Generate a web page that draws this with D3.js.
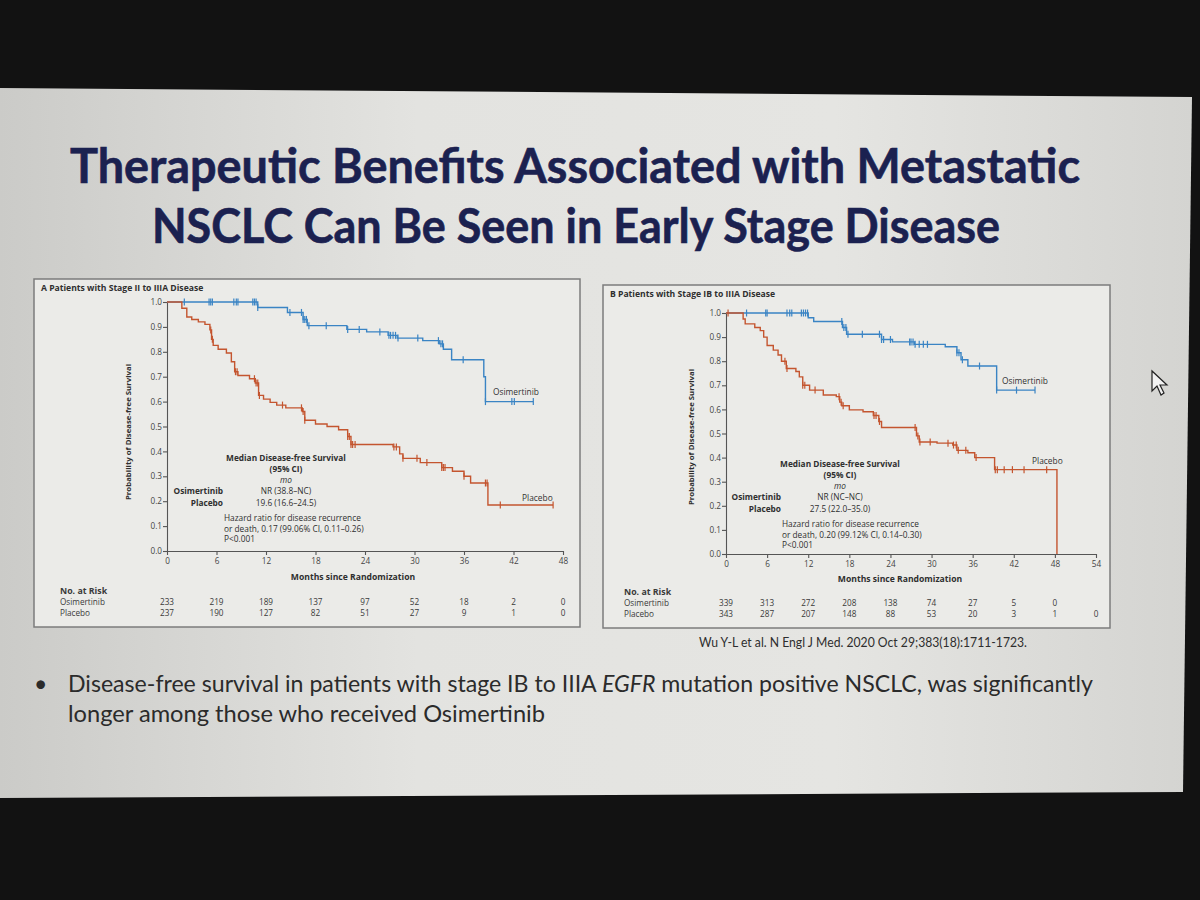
<!DOCTYPE html>
<html>
<head>
<meta charset="utf-8">
<title>Osimertinib disease-free survival</title>
<script src="https://d3js.org/d3.v7.min.js"></script>
<style>
  body { margin: 0; background: #121212; }
  svg { display: block; }
</style>
</head>
<body>
<script>
// ---- data ----
// risk table
const riskMonthsA = [0, 6, 12, 18, 24, 30, 36, 42, 48];
const riskOsiA = [233, 219, 189, 137, 97, 52, 18, 2, 0];
const riskPboA = [237, 190, 127, 82, 51, 27, 9, 1, 0];
const riskMonthsB = [0, 6, 12, 18, 24, 30, 36, 42, 48, 54];
const riskOsiB = [339, 313, 272, 208, 138, 74, 27, 5, 0];
const riskPboB = [343, 287, 207, 148, 88, 53, 20, 3, 1, 0];
const probTicks = [0, 0.1, 0.2, 0.3, 0.4, 0.5, 0.6, 0.7, 0.8, 0.9, 1.0];

// KM steps: [month, survival after the step]
const osiStepsA = [[0,1],[11.0,0.978],[14.6,0.958],[16.5,0.93],[17.0,0.905],[21.8,0.89],[24.2,0.88],
  [26.8,0.866],[27.9,0.855],[31.0,0.845],[33.0,0.832],[33.5,0.81],[34.5,0.768],[38.4,0.70],[38.6,0.60]];
const osiEndA = 44.4;
const osiCensA = [2.1,5.1,5.3,5.5,8.1,8.4,8.6,10.4,10.6,10.8,11.0,14.9,16.3,16.5,16.7,16.9,17.2,19.3,21.9,
  23.3,25.8,26.9,27.1,27.4,27.7,28.0,30.4,32.9,33.2,33.4,35.9,38.6,41.8,42.1,44.4];
const pboStepsA = [[0,1],[1.8,0.975],[2.4,0.94],[3.0,0.93],[3.8,0.92],[4.6,0.91],[5.2,0.888],[5.4,0.85],
  [5.6,0.826],[6.2,0.81],[7.2,0.795],[7.8,0.76],[8.2,0.72],[8.6,0.705],[10.0,0.692],[10.7,0.675],[11.1,0.625],
  [11.7,0.61],[12.5,0.597],[13.3,0.586],[14.4,0.575],[16.4,0.56],[16.7,0.525],[18.0,0.51],[19.4,0.50],
  [20.8,0.487],[21.9,0.46],[22.3,0.428],[27.4,0.418],[28.2,0.39],[28.6,0.372],[30.7,0.355],[33.3,0.335],
  [34.6,0.32],[36.0,0.30],[36.8,0.273],[38.9,0.185]];
const pboEndA = 46.8;
const pboCensA = [5.3,5.5,8.3,8.5,10.6,10.8,11.0,11.2,14.0,16.3,16.5,16.7,21.9,22.1,22.3,22.5,22.8,27.5,
  27.8,28.6,30.3,31.5,33.3,33.5,33.7,36.0,38.6,38.8,40.4,46.8];

const osiStepsB = [[0,1],[12.0,0.98],[12.8,0.965],[17.0,0.94],[17.6,0.912],[22.7,0.89],[24.3,0.88],
  [27.5,0.87],[32.0,0.86],[33.7,0.835],[34.3,0.806],[35.3,0.78],[39.5,0.68]];
const osiEndB = 45.1;
const osiCensB = [3.0,5.8,6.0,8.9,9.3,9.6,11.0,11.3,11.6,11.9,16.9,17.2,17.5,17.8,19.9,22.4,22.7,23.0,
  24.0,26.8,27.0,27.3,27.6,28.2,28.8,29.4,33.7,34.0,34.5,37.0,39.5,42.4,45.1];
const pboStepsB = [[0,1],[2.5,0.975],[2.8,0.955],[4.2,0.94],[5.0,0.927],[5.5,0.90],[6.0,0.865],[6.9,0.846],
  [7.6,0.826],[8.1,0.80],[8.8,0.77],[10.2,0.757],[10.7,0.735],[11.2,0.70],[12.2,0.68],[14.2,0.66],
  [16.1,0.653],[16.6,0.63],[16.9,0.615],[18.0,0.598],[20.0,0.59],[21.5,0.575],[22.3,0.55],[22.7,0.525],
  [27.8,0.49],[28.2,0.465],[30.8,0.46],[33.1,0.452],[33.7,0.43],[35.3,0.42],[36.3,0.40],[39.2,0.35],[48.3,0]];
const pboEndB = 48.3;
const pboCensB = [0.3,8.6,8.9,11.2,11.5,13.0,16.5,16.8,17.1,21.6,21.9,22.4,27.6,28.0,28.3,29.8,32.4,33.2,
  33.6,33.9,35.0,36.5,39.3,39.6,40.6,41.8,43.5,46.8];

// annotation texts
const statsA = ["NR (38.8\u2013NC)", "19.6 (16.6\u201324.5)"];
const hazardA = ["Hazard ratio for disease recurrence", "or death, 0.17 (99.06% CI, 0.11\u20130.26)", "P<0.001"];
const statsB = ["NR (NC\u2013NC)", "27.5 (22.0\u201335.0)"];
const hazardB = ["Hazard ratio for disease recurrence", "or death, 0.20 (99.12% CI, 0.14\u20130.30)", "P<0.001"];

const BLUE = "#3a84c4", ORANGE = "#c4552f", INK = "#2f2f2f";
const chartFont = "'Open Sans', 'DejaVu Sans', sans-serif";
const slideFont = "Lato, 'Open Sans', sans-serif";

const svg = d3.select("body").append("svg").attr("width", 1200).attr("height", 900);

// ---- photo background ----
const defs = svg.append("defs");
const grad = defs.append("linearGradient").attr("id", "slideBg").attr("x1", 0).attr("x2", 1).attr("y1", 0).attr("y2", 0);
grad.append("stop").attr("offset", 0).attr("stop-color", "#cbcbc8");
grad.append("stop").attr("offset", 0.35).attr("stop-color", "#e3e3e0");
grad.append("stop").attr("offset", 0.7).attr("stop-color", "#e5e5e2");
grad.append("stop").attr("offset", 1).attr("stop-color", "#d4d4d1");

svg.append("rect").attr("width", 1200).attr("height", 900).attr("fill", "#121212");
svg.append("polygon").attr("points", "0,88 1192,97 1183,792 0,798").attr("fill", "url(#slideBg)");

// title
const title = svg.append("g").attr("font-family", slideFont).attr("font-weight", 700)
  .attr("font-size", 47).attr("fill", "#1b2150").attr("stroke", "#1b2150").attr("stroke-width", 0.6)
  .attr("text-anchor", "middle");
title.append("text").attr("x", 575).attr("y", 183).attr("textLength", 1010).attr("lengthAdjust", "spacingAndGlyphs")
  .text("Therapeutic Benefits Associated with Metastatic");
title.append("text").attr("x", 576).attr("y", 243).attr("textLength", 848).attr("lengthAdjust", "spacingAndGlyphs")
  .text("NSCLC Can Be Seen in Early Stage Disease");

// ---- one KM panel ----
function survAt(steps, t) {
  const i = d3.bisector(d => d[0]).right(steps, t) - 1;
  return steps[Math.max(0, i)][1];
}

function drawPanel(p) {
  const g = svg.append("g");
  g.append("rect").attr("x", p.box[0]).attr("y", p.box[1]).attr("width", p.box[2]).attr("height", p.box[3])
    .attr("fill", "#ebebe8").attr("stroke", "#7c7c7c").attr("stroke-width", 1.5);

  g.append("text").attr("x", p.box[0] + 7).attr("y", p.box[1] + 12)
    .attr("font-family", chartFont).attr("font-size", 8.6).attr("font-weight", 700).attr("fill", INK)
    .text(p.title);

  const x = d3.scaleLinear().domain([0, p.maxMonth]).range([p.x0, p.x1]);
  const y = d3.scaleLinear().domain([0, 1]).range([p.y0, p.y1]);

  const yAxis = g.append("g").attr("transform", `translate(${p.x0},0)`)
    .call(d3.axisLeft(y).tickValues(probTicks).tickFormat(d3.format(".1f")).tickSize(4).tickSizeOuter(0));
  const xAxis = g.append("g").attr("transform", `translate(0,${p.y0})`)
    .call(d3.axisBottom(x).tickValues(p.riskMonths).tickSize(4).tickSizeOuter(0));
  [yAxis, xAxis].forEach(a => {
    a.selectAll("path,line").attr("stroke", "#555").attr("stroke-width", 1.1);
    a.selectAll("text").attr("fill", "#444").attr("font-family", chartFont).attr("font-size", 8.2);
  });
  yAxis.selectAll("text").attr("x", -5);

  g.append("text").attr("transform", `translate(${p.yLabel[0]},${p.yLabel[1]}) rotate(-90)`)
    .attr("text-anchor", "middle").attr("font-family", chartFont).attr("font-size", 7.8)
    .attr("font-weight", 700).attr("fill", INK).text("Probability of Disease-free Survival");
  g.append("text").attr("x", p.xLabel[0]).attr("y", p.xLabel[1]).attr("text-anchor", "middle")
    .attr("font-family", chartFont).attr("font-size", 8.6).attr("font-weight", 700).attr("fill", INK)
    .text("Months since Randomization");

  const line = d3.line().x(d => x(d[0])).y(d => y(d[1])).curve(d3.curveStepAfter);
  p.curves.forEach(c => {
    const pts = c.steps.concat([[c.end, c.steps[c.steps.length - 1][1]]]);
    g.append("path").attr("d", line(pts)).attr("fill", "none").attr("stroke", c.color).attr("stroke-width", 1.4);
    g.append("g").selectAll("line").data(c.cens).join("line")
      .attr("x1", d => x(d)).attr("x2", d => x(d))
      .attr("y1", d => y(survAt(c.steps, d)) - 3.5).attr("y2", d => y(survAt(c.steps, d)) + 3.5)
      .attr("stroke", c.color).attr("stroke-width", 1.2);
    g.append("text").attr("x", c.label[0]).attr("y", c.label[1]).attr("font-family", chartFont)
      .attr("font-size", 8.4).attr("fill", "#333").text(c.name);
  });

  // median DFS box
  const a = g.append("g").attr("font-family", chartFont).attr("font-size", 8.3).attr("fill", INK);
  const cx = p.stats[0], ty = p.stats[1];
  a.append("text").attr("x", cx).attr("y", ty).attr("text-anchor", "middle").attr("font-weight", 700)
    .text("Median Disease-free Survival");
  a.append("text").attr("x", cx).attr("y", ty + 11).attr("text-anchor", "middle").attr("font-weight", 700).text("(95% CI)");
  a.append("text").attr("x", cx).attr("y", ty + 22).attr("text-anchor", "middle").attr("font-style", "italic").text("mo");
  ["Osimertinib", "Placebo"].forEach((n, i) => {
    a.append("text").attr("x", p.stats[2]).attr("y", ty + 33 + i * 12).attr("text-anchor", "end")
      .attr("font-weight", 700).text(n);
    a.append("text").attr("x", cx).attr("y", ty + 33 + i * 12).attr("text-anchor", "middle").text(p.medians[i]);
  });
  p.hazard.forEach((t, i) => {
    a.append("text").attr("x", p.stats[2] + 1).attr("y", ty + 60 + i * 10.5).text(t);
  });

  // risk table
  const r = g.append("g").attr("font-family", chartFont).attr("font-size", 8.2).attr("fill", "#3a3a3a");
  r.append("text").attr("x", p.riskX).attr("y", p.riskY).attr("font-weight", 700).attr("font-size", 8.8).text("No. at Risk");
  [["Osimertinib", p.riskOsi], ["Placebo", p.riskPbo]].forEach(([n, vals], i) => {
    const yy = p.riskY + 11 + i * 10.5;
    r.append("text").attr("x", p.riskX).attr("y", yy).text(n);
    r.selectAll(null).data(vals).join("text")
      .attr("x", (d, j) => x(p.riskMonths[j])).attr("y", yy).attr("text-anchor", "middle").text(d => d);
  });
}

drawPanel({
  title: "A   Patients with Stage II to IIIA Disease",
  box: [34, 279, 546, 348], maxMonth: 48, x0: 167, x1: 563, y0: 551, y1: 302,
  riskMonths: riskMonthsA, riskOsi: riskOsiA, riskPbo: riskPboA,
  yLabel: [131, 432], xLabel: [353, 580],
  curves: [
    { name: "Osimertinib", steps: osiStepsA, end: osiEndA, cens: osiCensA, color: BLUE, label: [493, 395] },
    { name: "Placebo", steps: pboStepsA, end: pboEndA, cens: pboCensA, color: ORANGE, label: [522, 501] }
  ],
  stats: [286, 461, 223], medians: statsA, hazard: hazardA,
  riskX: 60, riskY: 594
});

drawPanel({
  title: "B   Patients with Stage IB to IIIA Disease",
  box: [603, 285, 507, 343], maxMonth: 54, x0: 726, x1: 1096, y0: 554, y1: 313,
  riskMonths: riskMonthsB, riskOsi: riskOsiB, riskPbo: riskPboB,
  yLabel: [694, 437], xLabel: [900, 582],
  curves: [
    { name: "Osimertinib", steps: osiStepsB, end: osiEndB, cens: osiCensB, color: BLUE, label: [1002, 384] },
    { name: "Placebo", steps: pboStepsB, end: pboEndB, cens: pboCensB, color: ORANGE, label: [1032, 464] }
  ],
  stats: [840, 467, 781], medians: statsB, hazard: hazardB,
  riskX: 624, riskY: 595
});

// citation
svg.append("text").attr("x", 699).attr("y", 647).attr("font-family", slideFont).attr("font-size", 13)
  .attr("fill", "#2e2e2e").attr("textLength", 328).attr("lengthAdjust", "spacingAndGlyphs")
  .text("Wu Y-L et al. N Engl J Med. 2020 Oct 29;383(18):1711-1723.");

// bullet
const bl = svg.append("g").attr("font-family", slideFont).attr("font-size", 23).attr("fill", "#2b2b2b");
bl.append("text").attr("x", 34).attr("y", 692).text("\u2022");
const l1 = bl.append("text").attr("x", 68).attr("y", 692).attr("textLength", 1025).attr("lengthAdjust", "spacingAndGlyphs");
l1.append("tspan").text("Disease-free survival in patients with stage IB to IIIA ");
l1.append("tspan").attr("font-style", "italic").text("EGFR");
l1.append("tspan").text(" mutation positive NSCLC, was significantly");
bl.append("text").attr("x", 68).attr("y", 722).attr("textLength", 477).attr("lengthAdjust", "spacingAndGlyphs")
  .text("longer among those who received Osimertinib");

// mouse pointer visible in the photo
svg.append("path").attr("d", "M1152,371 L1152,391 L1157,386 L1161,395 L1164,393 L1160,385 L1167,385 Z")
  .attr("fill", "#f2f2f2").attr("stroke", "#222").attr("stroke-width", 1.2);
</script>
</body>
</html>
